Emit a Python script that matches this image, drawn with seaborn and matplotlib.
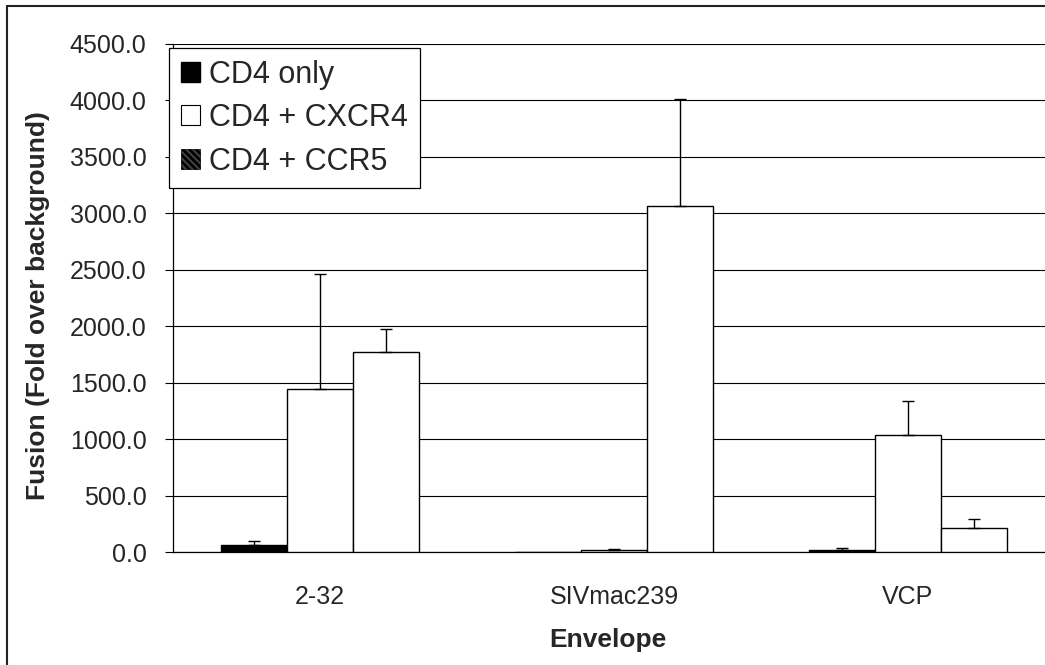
import matplotlib
matplotlib.use("Agg")

import pandas as pd
import seaborn as sns
import matplotlib.pyplot as plt
import matplotlib.patches as mpatches
from matplotlib.lines import Line2D
from matplotlib.ticker import FormatStrFormatter, FixedLocator

# Data
envelopes = ['2-32', 'SIVmac239', 'VCP']
series = ['CD4 only', 'CD4 + CXCR4', 'CD4 + CCR5']
cd4_only = [59, 3, 20]
cd4_cxcr4 = [1441, 20, 1034]
cd4_ccr5 = [1769, 3067, 213]
err_cd4_only = [36, 0, 15]
err_cd4_cxcr4 = [1026, 3, 307]
err_cd4_ccr5 = [204, 946, 79]

sns.set_style("white")
plt.rcParams['font.family'] = ['Liberation Sans', 'DejaVu Sans']
plt.rcParams['hatch.linewidth'] = 2.0

rows = []
for vals, name in zip([cd4_only, cd4_cxcr4, cd4_ccr5], series):
    for env, v in zip(envelopes, vals):
        rows.append({'Envelope': env, 'Series': name, 'Fusion': v})
df = pd.DataFrame(rows)

W, H = 1045, 665
fig = plt.figure(figsize=(W / 100, H / 100), dpi=100)
# plot area: left axis at x=173, baseline at y=552, top gridline at y=44, runs off right edge
ax = fig.add_axes([173 / W, (H - 552) / H, (W - 173) / W, (552 - 44) / H])

palette = {'CD4 only': 'black', 'CD4 + CXCR4': 'white', 'CD4 + CCR5': 'white'}
sns.barplot(data=df, x='Envelope', y='Fusion', hue='Series', order=envelopes,
            hue_order=series, palette=palette, errorbar=None, width=0.6735,
            edgecolor='black', linewidth=1.0, saturation=1, legend=False,
            zorder=3, ax=ax)

# upper-only error bars, Excel style
for cont, errs in zip(ax.containers, [err_cd4_only, err_cd4_cxcr4, err_cd4_ccr5]):
    for bar, e in zip(cont, errs):
        if e <= 0:
            continue
        x = bar.get_x() + bar.get_width() / 2
        ax.errorbar(x, bar.get_height(), yerr=[[0], [e]], fmt='none',
                    ecolor='black', elinewidth=1.0, capsize=4.5, capthick=1.0,
                    zorder=4)

ax.set_ylim(0, 4500)
ax.set_xlim(-0.5, -0.5 + (W - 173) / 294)
ax.set_yticks(range(0, 4501, 500))
ax.yaxis.set_major_formatter(FormatStrFormatter('%.1f'))
ax.yaxis.grid(True, color='black', linewidth=0.8, zorder=0)
ax.set_axisbelow(True)

# category boundary ticks below the axis
ax.xaxis.set_minor_locator(FixedLocator([-0.5, 0.5, 1.5, 2.5]))
ax.tick_params(axis='x', which='major', length=0, pad=24, labelsize=18)
ax.tick_params(axis='x', which='minor', length=6, width=0.8, direction='out', color='black')
ax.tick_params(axis='y', which='major', length=6, width=0.8, direction='out',
               color='black', pad=13, labelsize=18, left=True)

for s in ['top', 'right']:
    ax.spines[s].set_visible(False)
for s in ['left', 'bottom']:
    ax.spines[s].set_color('black')
    ax.spines[s].set_linewidth(0.9)

ax.set_xlabel('')
ax.set_ylabel('')
fig.text(38 / W, 1 - 306 / H, 'Fusion (Fold over background)', rotation=90,
         ha='center', va='center', fontsize=19, fontweight='bold')
fig.text(608 / W, 1 - 640 / H, 'Envelope', ha='center', va='center',
         fontsize=19, fontweight='bold')

# legend with hatched swatch for the CCR5 series
handles = [
    mpatches.Patch(facecolor='black', edgecolor='black', label=series[0]),
    mpatches.Patch(facecolor='white', edgecolor='black', linewidth=0.8, label=series[1]),
    mpatches.Patch(facecolor='#444444', edgecolor='black', linewidth=0.5,
                   hatch='\\\\\\\\\\', label=series[2]),
]
leg = fig.legend(handles=handles, loc='upper left', bbox_to_anchor=(169 / W, 1 - 48 / H),
                 fontsize=22, frameon=True, fancybox=False, framealpha=1,
                 edgecolor='black', handlelength=0.62, handleheight=0.62,
                 handletextpad=0.32, borderpad=0.38, labelspacing=0.44,
                 borderaxespad=0)
leg.get_frame().set_linewidth(0.9)

# outer chart border (only left and top visible in the crop)
fig.add_artist(Line2D([7 / W, 7 / W], [0, 1 - 6 / H], transform=fig.transFigure,
                      color='#222222', linewidth=1.5))
fig.add_artist(Line2D([7 / W, 1], [1 - 6 / H, 1 - 6 / H], transform=fig.transFigure,
                      color='#222222', linewidth=1.5))

fig.savefig('out.png', dpi=100)
plt.close(fig)
